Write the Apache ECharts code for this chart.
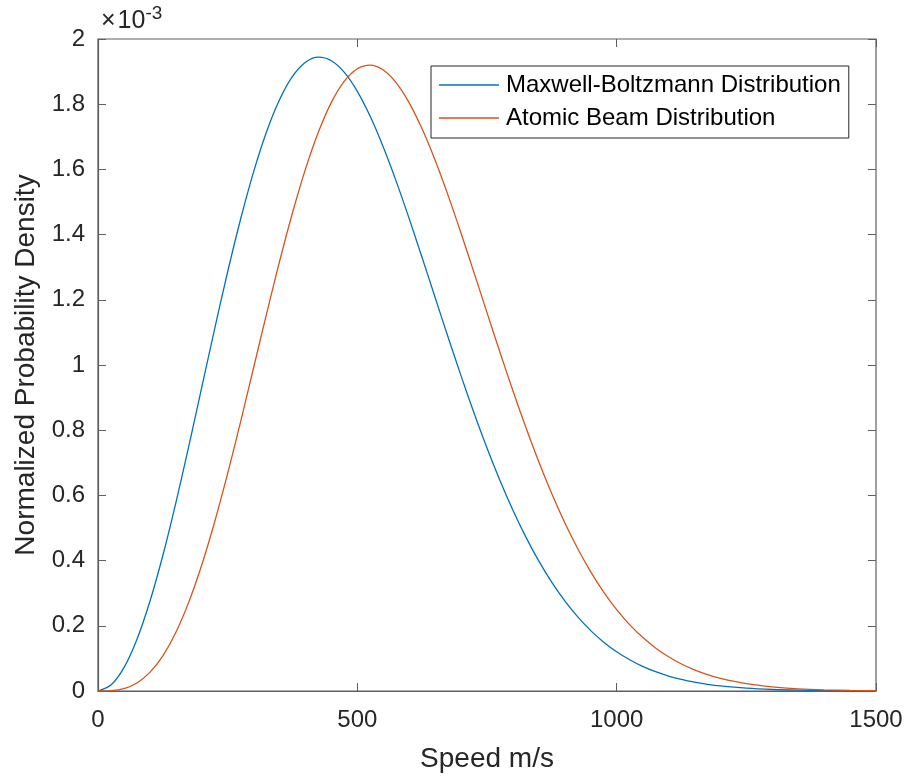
<!DOCTYPE html>
<html>
<head>
<meta charset="utf-8">
<script src="https://cdn.jsdelivr.net/npm/echarts@6/dist/echarts.min.js"></script>
<style>html,body{margin:0;padding:0;background:#fff}#c{width:907px;height:779px}</style>
</head>
<body>
<div id="c"></div>
<script>
// Speeds (m/s)
const speeds = [0,25,50,75,100,125,150,175,200,225,250,275,300,325,350,375,400,425,450,475,500,525,550,575,600,625,650,675,700,725,750,775,800,825,850,875,900,925,950,975,1000,1025,1050,1075,1100,1125,1150,1175,1200,1250,1300,1350,1400,1450,1500];
// Maxwell-Boltzmann density (x 1e-3)
const mbValues = [0,0.0181,0.0715,0.1581,0.2744,0.4157,0.5765,0.7505,0.9311,1.1117,1.2860,1.4479,1.5925,1.7155,1.8136,1.8850,1.9285,1.9442,1.9333,1.8975,1.8394,1.7620,1.6687,1.5633,1.4489,1.3290,1.2070,1.0853,0.9666,0.8529,0.7456,0.6459,0.5546,0.4720,0.3982,0.3331,0.2763,0.2272,0.1853,0.1499,0.1203,0.0958,0.0756,0.0592,0.0460,0.0355,0.0271,0.0206,0.0155,0.0086,0.0046,0.0024,0.0012,0.0006,0.0003];
// Atomic beam density (x 1e-3)
const beamValues = [0,0.0009,0.0074,0.0246,0.0570,0.1079,0.1795,0.2726,0.3865,0.5192,0.6673,0.8264,0.9916,1.1571,1.3174,1.4671,1.6010,1.7149,1.8056,1.8706,1.9088,1.9199,1.9048,1.8655,1.8042,1.7239,1.6282,1.5204,1.4042,1.2833,1.1606,1.0389,0.9208,0.8082,0.7025,0.6049,0.5160,0.4362,0.3654,0.3034,0.2497,0.2037,0.1647,0.1321,0.1050,0.0828,0.0648,0.0502,0.0386,0.0223,0.0125,0.0068,0.0035,0.0018,0.0009];
const seriesNames = ['Maxwell-Boltzmann Distribution','Atomic Beam Distribution'];
const xTicks = {min:0,max:1500,interval:500};
const yTicks = {min:0,max:2,interval:0.2};

const axisColor = '#5f5f5f';
const textColor = '#262626';
const font = 'Liberation Sans, Arial, Helvetica, sans-serif';

function pairs(vals){ return speeds.map((s,i)=>[s, vals[i]]); }

const chart = echarts.init(document.getElementById('c'), null, {renderer:'canvas'});
const hiddenAxisCommon = {
  axisLine:{show:false, onZero:false}, axisLabel:{show:false}, splitLine:{show:false},
  axisTick:{show:true, inside:true, length:8, lineStyle:{color:axisColor,width:1}}
};
chart.setOption({
  animation:false,
  backgroundColor:'#fff',
  grid:{left:98, right:31, top:39, bottom:88, show:true, borderColor:axisColor, borderWidth:1.2, containLabel:false},
  legend:{
    left:431, top:66, orient:'vertical', itemWidth:60, itemHeight:1.5, itemGap:9, icon:'rect',
    padding:[7,8,8,8], borderColor:textColor, borderWidth:1, backgroundColor:'#fff',
    textStyle:{fontFamily:font, fontSize:24, color:'#000', padding:[0,0,0,2], lineHeight:24},
    itemStyle:{borderWidth:0},
    data:seriesNames
  },
  xAxis:[
    {type:'value', min:xTicks.min, max:xTicks.max, interval:xTicks.interval,
     name:'Speed m/s', nameLocation:'middle', nameGap:54,
     nameTextStyle:{fontFamily:font, fontSize:28, color:textColor},
     axisLine:{show:true, onZero:false, lineStyle:{color:axisColor,width:1.2}},
     axisTick:{show:true, inside:true, length:8, lineStyle:{color:axisColor}},
     axisLabel:{fontFamily:font, fontSize:24, color:textColor, margin:17, formatter:v=>String(v)},
     splitLine:{show:false}},
    Object.assign({type:'value', position:'top', min:xTicks.min, max:xTicks.max, interval:xTicks.interval}, hiddenAxisCommon)
  ],
  yAxis:[
    {type:'value', min:yTicks.min, max:yTicks.max, interval:yTicks.interval,
     name:'Normalized Probability Density', nameLocation:'middle', nameGap:56,
     nameTextStyle:{fontFamily:font, fontSize:28, color:textColor},
     axisLine:{show:true, onZero:false, lineStyle:{color:axisColor,width:1.2}},
     axisTick:{show:true, inside:true, length:8, lineStyle:{color:axisColor}},
     axisLabel:{fontFamily:font, fontSize:24, color:textColor, margin:13},
     splitLine:{show:false}},
    Object.assign({type:'value', position:'right', min:yTicks.min, max:yTicks.max, interval:yTicks.interval}, hiddenAxisCommon)
  ],
  graphic:[{
    type:'text', left:101, top:4,
    style:{
      text:'{x|×}{a|10}{b|-3}',
      rich:{
        x:{fontFamily:font, fontSize:25, fill:textColor, verticalAlign:'bottom', lineHeight:30, padding:[0,2,0,0]},
        a:{fontFamily:font, fontSize:25, fill:textColor, verticalAlign:'bottom', lineHeight:30},
        b:{fontFamily:font, fontSize:19, fill:textColor, verticalAlign:'top', lineHeight:30, padding:[0,0,14,0]}
      }
    }
  }],
  series:[
    {name:seriesNames[0], type:'line', data:pairs(mbValues), smooth:0.3, showSymbol:false, symbol:'none',
     lineStyle:{color:'#0072BD', width:1.3}, itemStyle:{color:'#0072BD'}, z:3},
    {name:seriesNames[1], type:'line', data:pairs(beamValues), smooth:0.3, showSymbol:false, symbol:'none',
     lineStyle:{color:'#D95319', width:1.3}, itemStyle:{color:'#D95319'}, z:3}
  ]
});
</script>
</body>
</html>
